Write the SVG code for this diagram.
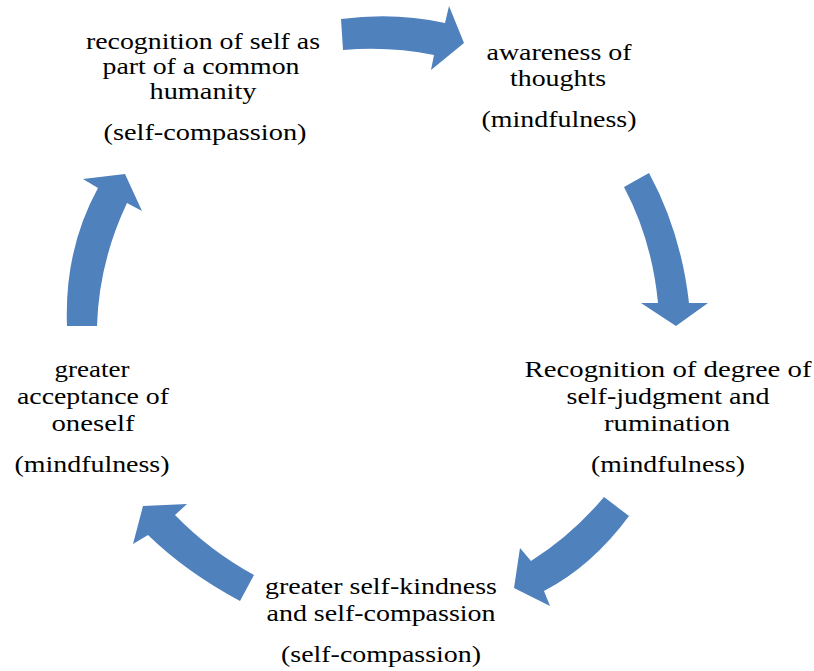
<svg xmlns="http://www.w3.org/2000/svg" width="814" height="671" viewBox="0 0 814 671">
<style>
text{font-family:'Times New Roman','Liberation Serif',Tinos,Times,serif;font-size:24px;fill:#000;text-anchor:middle}
.a{fill:#4F81BD}
</style>
<rect width="814" height="671" fill="#fff"/>
<g id="connectors">
<path class="a" d="M341,19 Q395,12 445,23 L449,6 L464,43 L431,70 L434,55 Q390,46 343,50 Z"/>
<path class="a" d="M624,187 L649,173 Q681,232 689,303 L708,303 L676,326 L641,303 L658,303 Q652,240 624,187 Z"/>
<path class="a" d="M604,497 L629,516 Q592,566 544,591 L550,606 L514,588 L520,548 L531,561 Q572,535 604,497 Z"/>
<path class="a" d="M254,575 L240,601 Q186,572 148,535 L133,544 L143,506 L187,504 L175,515 Q210,551 254,575 Z"/>
<path class="a" d="M67,326 Q64,250 98,188 L83,179 L125,174 L142,211 L127,203 Q99,262 97,326 Z"/>
</g>
<g id="n1">
<text x="203" y="49" textLength="234" lengthAdjust="spacingAndGlyphs">recognition of self as</text>
<text x="201" y="74" textLength="197" lengthAdjust="spacingAndGlyphs">part of a common</text>
<text x="203" y="99" textLength="107" lengthAdjust="spacingAndGlyphs">humanity</text>
<text x="205" y="140" textLength="203" lengthAdjust="spacingAndGlyphs">(self-compassion)</text>
</g>
<g id="n2">
<text x="559" y="60" textLength="145" lengthAdjust="spacingAndGlyphs">awareness of</text>
<text x="558" y="86" textLength="96" lengthAdjust="spacingAndGlyphs">thoughts</text>
<text x="559" y="127" textLength="155" lengthAdjust="spacingAndGlyphs">(mindfulness)</text>
</g>
<g id="n3">
<text x="668" y="377" textLength="287" lengthAdjust="spacingAndGlyphs">Recognition of  degree of</text>
<text x="668" y="404" textLength="203" lengthAdjust="spacingAndGlyphs">self-judgment and</text>
<text x="667" y="431" textLength="126" lengthAdjust="spacingAndGlyphs">rumination</text>
<text x="668" y="472" textLength="154" lengthAdjust="spacingAndGlyphs">(mindfulness)</text>
</g>
<g id="n4">
<text x="92" y="377" textLength="75" lengthAdjust="spacingAndGlyphs">greater</text>
<text x="93" y="404" textLength="152" lengthAdjust="spacingAndGlyphs">acceptance of</text>
<text x="93" y="431" textLength="83" lengthAdjust="spacingAndGlyphs">oneself</text>
<text x="92" y="472" textLength="155" lengthAdjust="spacingAndGlyphs">(mindfulness)</text>
</g>
<g id="n5">
<text x="381" y="594" textLength="232" lengthAdjust="spacingAndGlyphs">greater self-kindness</text>
<text x="381" y="621" textLength="229" lengthAdjust="spacingAndGlyphs">and self-compassion</text>
<text x="381" y="662" textLength="200" lengthAdjust="spacingAndGlyphs">(self-compassion)</text>
</g>
</svg>
